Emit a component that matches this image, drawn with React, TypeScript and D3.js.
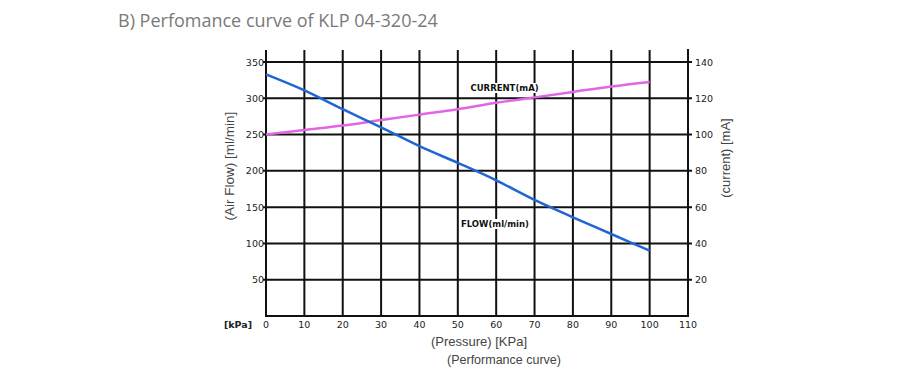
import React, { useRef, useEffect } from 'react';
import * as d3 from 'd3';

// pressure steps (kPa)
const pressure = [0, 10, 20, 30, 40, 50, 60, 70, 80, 90, 100];
// air flow, ml/min
const flow = [333, 311, 285, 260, 234, 211, 187, 160, 136, 113, 90];
// current, mA
const current = [100, 102.5, 105, 108, 111, 114, 117.5, 120.5, 123.5, 126.5, 129];

const xTicks = [0, 10, 20, 30, 40, 50, 60, 70, 80, 90, 100, 110];
const flowTicks = [50, 100, 150, 200, 250, 300, 350];
const currentTicks = [20, 40, 60, 80, 100, 120, 140];

const W = 920;
const H = 385;

const App = () => {
  const ref = useRef<SVGSVGElement>(null);

  useEffect(() => {
    const svg = d3.select(ref.current);
    svg.selectAll('*').remove();

    const left = 266;
    const right = 688;
    const bottom = 316;
    const top = 50;

    const x = d3.scaleLinear().domain([0, 110]).range([left, right]);
    const yFlow = d3.scaleLinear().domain([0, 350]).range([bottom, 62]);
    const yCur = d3.scaleLinear().domain([0, 140]).range([bottom, 62]);

    // title
    svg.append('text')
      .attr('x', 118)
      .attr('y', 27)
      .attr('font-family', '"Open Sans", sans-serif')
      .attr('font-size', 18)
      .attr('fill', '#7a7a7a')
      .text('B) Perfomance curve of KLP 04-320-24');

    const grid = svg.append('g').attr('stroke', '#111').attr('stroke-width', 2);

    // vertical grid
    grid.selectAll('line.v')
      .data(xTicks.filter(d => d > 0 && d < 110))
      .enter()
      .append('line')
      .attr('x1', d => x(d))
      .attr('x2', d => x(d))
      .attr('y1', top)
      .attr('y2', bottom);

    // horizontal grid
    grid.selectAll('line.h')
      .data(flowTicks)
      .enter()
      .append('line')
      .attr('x1', left - 3)
      .attr('x2', right + 4)
      .attr('y1', d => yFlow(d))
      .attr('y2', d => yFlow(d));

    // axes frame
    grid.append('line').attr('x1', left).attr('x2', left).attr('y1', top).attr('y2', bottom + 1);
    grid.append('line').attr('x1', right).attr('x2', right).attr('y1', top - 1).attr('y2', bottom + 1);
    grid.append('line').attr('x1', left - 1).attr('x2', right + 1).attr('y1', bottom).attr('y2', bottom);

    const tickFont = '"DejaVu Sans", sans-serif';

    // left tick labels
    svg.selectAll('text.yl')
      .data(flowTicks)
      .enter()
      .append('text')
      .attr('x', left - 2)
      .attr('y', d => yFlow(d) + 3.5)
      .attr('text-anchor', 'end')
      .attr('font-family', tickFont)
      .attr('font-size', 9.5)
      .attr('fill', '#222')
      .text(d => d);

    // right tick labels
    svg.selectAll('text.yr')
      .data(currentTicks)
      .enter()
      .append('text')
      .attr('x', right + 7)
      .attr('y', d => yCur(d) + 3.5)
      .attr('font-family', tickFont)
      .attr('font-size', 9.5)
      .attr('fill', '#222')
      .text(d => d);

    // x tick labels
    svg.selectAll('text.x')
      .data(xTicks)
      .enter()
      .append('text')
      .attr('x', d => x(d))
      .attr('y', bottom + 12)
      .attr('text-anchor', 'middle')
      .attr('font-family', tickFont)
      .attr('font-size', 9.5)
      .attr('fill', '#222')
      .text(d => d);

    svg.append('text')
      .attr('x', 238)
      .attr('y', bottom + 12)
      .attr('text-anchor', 'middle')
      .attr('font-family', tickFont)
      .attr('font-size', 9.5)
      .attr('font-weight', 'bold')
      .attr('fill', '#222')
      .text('[kPa]');

    // curves
    const lineFlow = d3.line<number>()
      .x((d, i) => x(pressure[i]))
      .y(d => yFlow(d))
      .curve(d3.curveMonotoneX);
    const lineCur = d3.line<number>()
      .x((d, i) => x(pressure[i]))
      .y(d => yCur(d))
      .curve(d3.curveMonotoneX);

    svg.append('path')
      .datum(current)
      .attr('fill', 'none')
      .attr('stroke', '#e066e6')
      .attr('stroke-width', 2.5)
      .attr('d', lineCur);

    svg.append('path')
      .datum(flow)
      .attr('fill', 'none')
      .attr('stroke', '#1f66d4')
      .attr('stroke-width', 2.5)
      .attr('d', lineFlow);

    // series labels, on a white patch like the scanned original
    const seriesLabel = (tx: number, ty: number, s: string) => {
      const g = svg.append('g');
      const t = g.append('text')
        .attr('x', tx)
        .attr('y', ty)
        .attr('font-family', tickFont)
        .attr('font-size', 8.5)
        .attr('font-weight', 'bold')
        .attr('fill', '#111')
        .text(s);
      const b = (t.node() as SVGTextElement).getBBox();
      g.insert('rect', 'text')
        .attr('x', b.x - 1)
        .attr('y', b.y)
        .attr('width', b.width + 2)
        .attr('height', b.height)
        .attr('fill', '#fff');
    };
    seriesLabel(x(53.3), 91, 'CURRENT(mA)');
    seriesLabel(x(50.8), 227, 'FLOW(ml/min)');

    // axis titles
    const labelFont = '"Liberation Sans", Arial, sans-serif';
    svg.append('text')
      .attr('transform', `translate(234, 166) rotate(-90)`)
      .attr('text-anchor', 'middle')
      .attr('font-family', labelFont)
      .attr('font-size', 13.5)
      .attr('fill', '#444')
      .text('(Air Flow) [ml/min]');

    svg.append('text')
      .attr('transform', `translate(730, 158) rotate(-90)`)
      .attr('text-anchor', 'middle')
      .attr('font-family', labelFont)
      .attr('font-size', 13)
      .attr('fill', '#444')
      .text('(current) [mA]');

    svg.append('text')
      .attr('x', 479)
      .attr('y', 346)
      .attr('text-anchor', 'middle')
      .attr('font-family', labelFont)
      .attr('font-size', 13)
      .attr('fill', '#444')
      .text('(Pressure) [KPa]');

    svg.append('text')
      .attr('x', 504)
      .attr('y', 364)
      .attr('text-anchor', 'middle')
      .attr('font-family', labelFont)
      .attr('font-size', 12.5)
      .attr('fill', '#444')
      .text('(Performance curve)');
  }, []);

  return (
    <svg
      ref={ref}
      width={W}
      height={H}
      style={{ position: 'absolute', left: 0, top: 0, background: '#fff' }}
    />
  );
};

export default App;
